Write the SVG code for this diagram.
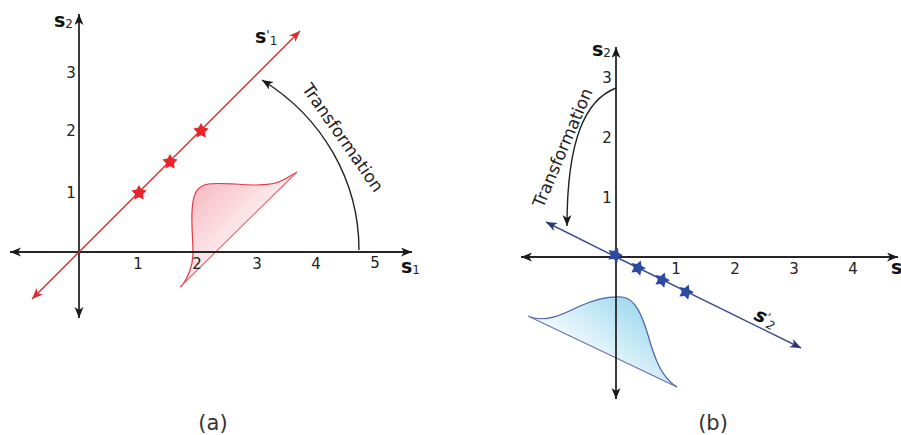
<svg xmlns="http://www.w3.org/2000/svg" width="901" height="435" viewBox="0 0 901 435">
<style>
.ax{stroke:#262626;stroke-width:1.8;fill:none}
.tk{font-family:"DejaVu Sans",Verdana,sans-serif;font-size:15px;fill:#222;text-anchor:middle}
.lb{font-family:"DejaVu Sans",Verdana,sans-serif;font-weight:bold;font-size:19px;fill:#111}
.sub{font-family:"DejaVu Sans",Verdana,sans-serif;font-weight:normal;font-size:12px;fill:#222}
.tr{font-family:"DejaVu Sans",Verdana,sans-serif;font-size:17px;fill:#222;text-anchor:middle}
.cap{font-family:"DejaVu Sans",Verdana,sans-serif;font-size:21px;fill:#333;text-anchor:middle}
.arc{stroke:#222;stroke-width:1.4;fill:none}
</style>
<defs>
<marker id="ak" markerWidth="12" markerHeight="10" refX="11" refY="4.5" orient="auto" markerUnits="userSpaceOnUse">
<path d="M0,0 L11,4.5 L0,9 L3,4.5 z" fill="#1a1a1a"/>
</marker>
<marker id="ar" markerWidth="12" markerHeight="10" refX="11" refY="4.5" orient="auto" markerUnits="userSpaceOnUse">
<path d="M0,0 L11,4.5 L0,9 L3,4.5 z" fill="#d92b30"/>
</marker>
<marker id="ab" markerWidth="12" markerHeight="10" refX="11" refY="4.5" orient="auto" markerUnits="userSpaceOnUse">
<path d="M0,0 L11,4.5 L0,9 L3,4.5 z" fill="#2b3570"/>
</marker>
<polygon id="star" points="0,-8 2.5,-3.4 7.61,-2.47 4,1.3 4.7,6.47 0,4.3 -4.7,6.47 -4,1.3 -7.61,-2.47 -2.5,-3.4"/>
<linearGradient id="gr" x1="0" y1="0" x2="1" y2="1">
<stop offset="0" stop-color="#f3a9b4"/>
<stop offset="0.7" stop-color="#fff" stop-opacity="0.9"/>
<stop offset="1" stop-color="#fff" stop-opacity="0"/>
</linearGradient>
<linearGradient id="gb" x1="1" y1="0" x2="0" y2="0.8">
<stop offset="0" stop-color="#7ccbe8"/>
<stop offset="0.8" stop-color="#fff" stop-opacity="0.9"/>
<stop offset="1" stop-color="#fff" stop-opacity="0"/>
</linearGradient>
</defs>
<rect width="901" height="435" fill="#fff"/>

<g id="panel-a">
<g id="a-distribution">
<path d="M181,287 C188,278 193,265 193,252 C193,235 189,205 196,192 C202,182 212,183 235,184 C258,186 275,185 283,180 C290,176 294,174 297,172 Z" fill="url(#gr)" stroke="none"/>
<path d="M181,287 C188,278 193,265 193,252 C193,235 189,205 196,192 C202,182 212,183 235,184 C258,186 275,185 283,180 C290,176 294,174 297,172" fill="none" stroke="#dc3a44" stroke-width="1.2"/>
<path d="M180,287 L297,172" stroke="#e56470" stroke-width="1.1" fill="none"/>
</g>
<g id="a-axes">
<line class="ax" x1="79" y1="252" x2="79" y2="14" marker-end="url(#ak)"/>
<line class="ax" x1="79" y1="252" x2="79" y2="318" marker-end="url(#ak)"/>
<line class="ax" x1="79" y1="252" x2="10" y2="252" marker-end="url(#ak)"/>
<line class="ax" x1="79" y1="252" x2="412" y2="252" marker-end="url(#ak)"/>
</g>
<g id="a-line">
<line x1="79" y1="252" x2="300" y2="31" stroke="#d92b30" stroke-width="1.4" marker-end="url(#ar)"/>
<line x1="79" y1="252" x2="32" y2="299" stroke="#d92b30" stroke-width="1.4" marker-end="url(#ar)"/>
</g>
<g id="a-stars" fill="#e8242a">
<use href="#star" x="139" y="193"/>
<use href="#star" x="170" y="162"/>
<use href="#star" x="201" y="131"/>
</g>
<g id="a-labels">
<text class="tk" x="138" y="269">1</text>
<text class="tk" x="197" y="269">2</text>
<text class="tk" x="257" y="269">3</text>
<text class="tk" x="316" y="269">4</text>
<text class="tk" x="375" y="268">5</text>
<text class="tk" x="71" y="78">3</text>
<text class="tk" x="71" y="136">2</text>
<text class="tk" x="71" y="198">1</text>
<text class="lb" x="54" y="27">s<tspan class="sub" dy="1">2</tspan></text>
<text class="lb" x="401" y="273">s<tspan class="sub" dy="1">1</tspan></text>
<text class="lb" x="255" y="43">s<tspan class="sub" dy="-4">'</tspan><tspan class="sub" dy="6">1</tspan></text>
</g>
<g id="a-transformation">
<path class="arc" d="M359,250 C359,180 322,117 262,80" marker-end="url(#ak)"/>
<text class="tr" transform="translate(338,141) rotate(55)">Transformation</text>
</g>
<text class="cap" x="213" y="430">(a)</text>
</g>

<g id="panel-b">
<g id="b-distribution">
<path d="M530,317 C545,322 560,316 580,306 C598,298 610,296 622,297 C635,298 642,315 648,335 C655,360 662,378 677,387 Z" fill="url(#gb)" stroke="none"/>
<path d="M530,317 C545,322 560,316 580,306 C598,298 610,296 622,297 C635,298 642,315 648,335 C655,360 662,378 677,387" fill="none" stroke="#4d5fa5" stroke-width="1.2"/>
<path d="M528,316 L677,387" stroke="#6a70b0" stroke-width="1.1" fill="none"/>
</g>
<g id="b-axes">
<line class="ax" x1="616" y1="257" x2="616" y2="47" marker-end="url(#ak)"/>
<line class="ax" x1="616" y1="257" x2="616" y2="399" marker-end="url(#ak)"/>
<line class="ax" x1="616" y1="257" x2="521" y2="257" marker-end="url(#ak)"/>
<line class="ax" x1="616" y1="257" x2="898" y2="257" marker-end="url(#ak)"/>
</g>
<g id="b-line">
<line x1="616" y1="257" x2="546" y2="222" stroke="#3d4a90" stroke-width="1.4" marker-end="url(#ab)"/>
<line x1="616" y1="257" x2="801" y2="348" stroke="#3d4a90" stroke-width="1.4" marker-end="url(#ab)"/>
</g>
<g id="b-stars" fill="#2d4aa3">
<use href="#star" transform="translate(615,255) rotate(20)"/>
<use href="#star" transform="translate(638,268) rotate(20)"/>
<use href="#star" transform="translate(662,280) rotate(20)"/>
<use href="#star" transform="translate(686,292) rotate(20)"/>
</g>
<g id="b-labels">
<text class="tk" x="676" y="274">1</text>
<text class="tk" x="735" y="274">2</text>
<text class="tk" x="794" y="274">3</text>
<text class="tk" x="853" y="274">4</text>
<text class="tk" x="607" y="83">3</text>
<text class="tk" x="607" y="143">2</text>
<text class="tk" x="607" y="203">1</text>
<text class="lb" x="592" y="56">s<tspan class="sub" dy="1">2</tspan></text>
<text class="lb" x="891" y="274">s</text>
<text class="lb" font-style="italic" transform="translate(753,319) rotate(26)">s<tspan class="sub" dy="-4">'</tspan><tspan class="sub" dy="6">2</tspan></text>
</g>
<g id="b-transformation">
<path class="arc" d="M616,88 C585,100 567,140 567,226" marker-end="url(#ak)"/>
<text class="tr" transform="translate(568,150) rotate(-67)">Transformation</text>
</g>
<text class="cap" x="713" y="430">(b)</text>
</g>
</svg>
